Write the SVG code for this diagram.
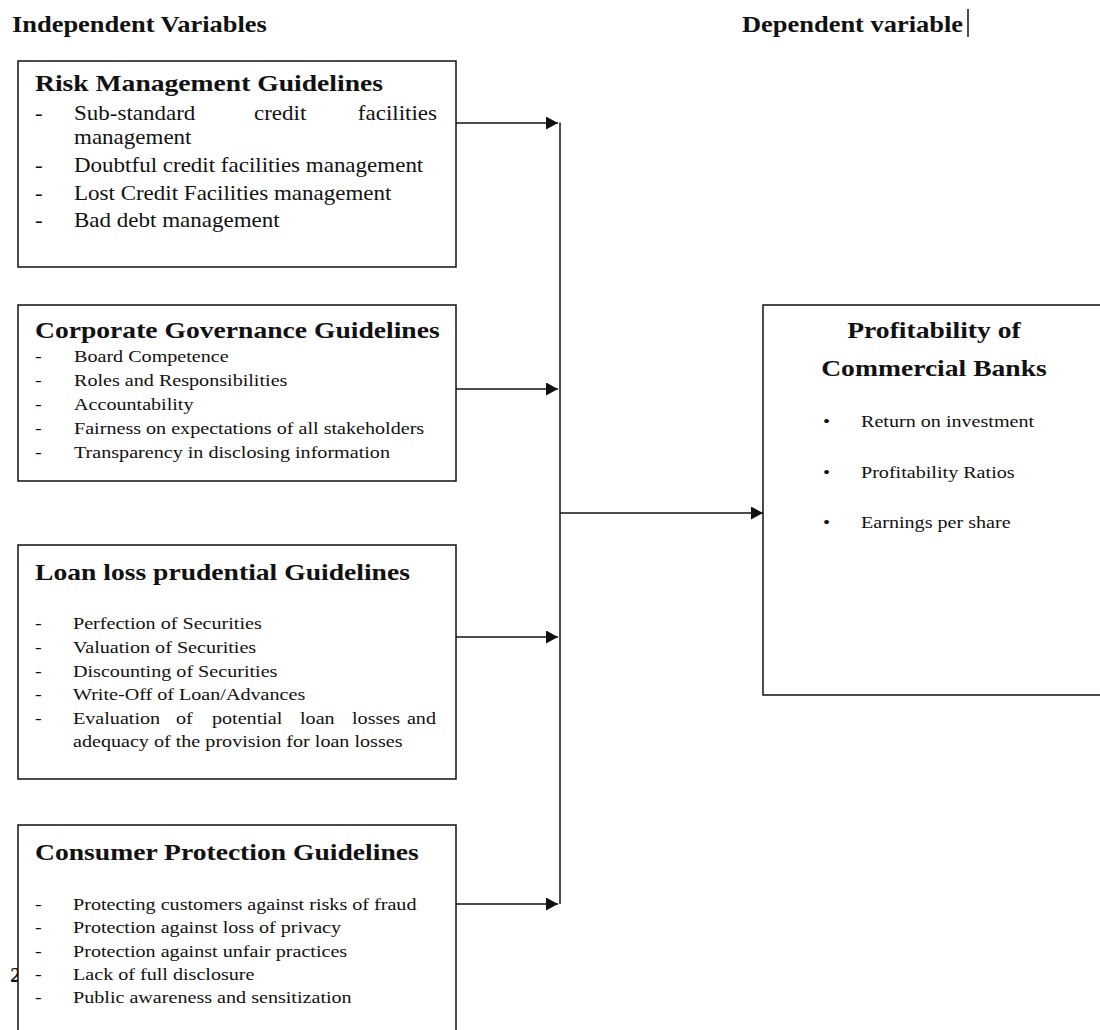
<svg xmlns="http://www.w3.org/2000/svg" width="1100" height="1030" viewBox="0 0 1100 1030">
<style>
.box{fill:#fff;stroke:#111;stroke-width:1.5}
.con{fill:none;stroke:#111;stroke-width:1.5}
text{font-family:"Liberation Serif","Times New Roman",serif;fill:#111}
.hd{font-size:23px;font-weight:bold}
.tt{font-size:24px;font-weight:bold}
.i1{font-size:20px}
.i2{font-size:17.5px}
</style>
<defs>
<marker id="ah" markerUnits="userSpaceOnUse" markerWidth="14" markerHeight="14" refX="12" refY="6.5" orient="auto">
<path d="M0,0 L12,6.5 L0,13 Z" fill="#111"/>
</marker>
</defs>
<rect width="1100" height="1030" fill="#fff"/>

<g id="headers" transform="scale(1.15 1)">
<text class="hd" x="10.43" y="32">Independent Variables</text>
<text class="hd" x="645.22" y="32">Dependent variable</text>
</g>
<line x1="968" y1="9" x2="968" y2="37" stroke="#111" stroke-width="1.5"/>

<g id="pagenum" transform="scale(1.15 1)">
<text class="i1" x="8.7" y="982" font-weight="bold">2</text>
</g>

<g id="connectors">
<line class="con" x1="560" y1="122.5" x2="560" y2="904"/>
<line class="con" x1="456" y1="123" x2="558" y2="123" marker-end="url(#ah)"/>
<line class="con" x1="456" y1="389" x2="558" y2="389" marker-end="url(#ah)"/>
<line class="con" x1="456" y1="637" x2="558" y2="637" marker-end="url(#ah)"/>
<line class="con" x1="456" y1="904" x2="558" y2="904" marker-end="url(#ah)"/>
<line class="con" x1="560" y1="513" x2="763" y2="513" marker-end="url(#ah)"/>
</g>

<g id="risk">
<rect class="box" x="18" y="61" width="438" height="206"/>
<g transform="scale(1.15 1)">
<text class="tt" x="30.43" y="91">Risk Management Guidelines</text>
<g class="i1">
<text x="30.43" y="120">-</text><text x="64.35" y="120">Sub-standard</text><text x="220.87" y="120">credit</text><text x="380" y="120" text-anchor="end">facilities</text>
<text x="64.35" y="144">management</text>
<text x="30.43" y="172">-</text><text x="64.35" y="172">Doubtful credit facilities management</text>
<text x="30.43" y="200">-</text><text x="64.35" y="200">Lost Credit Facilities management</text>
<text x="30.43" y="227">-</text><text x="64.35" y="227">Bad debt management</text>
</g>
</g>
</g>

<g id="governance">
<rect class="box" x="18" y="305" width="438" height="176"/>
<g transform="scale(1.15 1)">
<text class="tt" x="30.43" y="338">Corporate Governance Guidelines</text>
<g class="i2">
<text x="30.43" y="362">-</text><text x="64.35" y="362">Board Competence</text>
<text x="30.43" y="386">-</text><text x="64.35" y="386">Roles and Responsibilities</text>
<text x="30.43" y="410">-</text><text x="64.35" y="410">Accountability</text>
<text x="30.43" y="434">-</text><text x="64.35" y="434">Fairness on expectations of all stakeholders</text>
<text x="30.43" y="458">-</text><text x="64.35" y="458">Transparency  in disclosing information</text>
</g>
</g>
</g>

<g id="loanloss">
<rect class="box" x="18" y="545" width="438" height="234"/>
<g transform="scale(1.15 1)">
<text class="tt" x="30.43" y="580">Loan loss prudential Guidelines</text>
<g class="i2">
<text x="30.43" y="629">-</text><text x="63.48" y="629">Perfection of Securities</text>
<text x="30.43" y="653">-</text><text x="63.48" y="653">Valuation of Securities</text>
<text x="30.43" y="677">-</text><text x="63.48" y="677">Discounting of Securities</text>
<text x="30.43" y="700">-</text><text x="63.48" y="700">Write-Off of Loan/Advances</text>
<text x="30.43" y="724">-</text><text x="63.48" y="724">Evaluation</text><text x="153.04" y="724">of</text><text x="184.35" y="724">potential</text><text x="260.87" y="724">loan</text><text x="306.09" y="724">losses</text><text x="379.13" y="724" text-anchor="end">and</text>
<text x="63.48" y="747">adequacy of the provision for loan losses</text>
</g>
</g>
</g>

<g id="consumer">
<rect class="box" x="18" y="825" width="438" height="220"/>
<g transform="scale(1.15 1)">
<text class="tt" x="30.43" y="860">Consumer Protection Guidelines</text>
<g class="i2">
<text x="30.43" y="910">-</text><text x="63.48" y="910">Protecting customers against risks of fraud</text>
<text x="30.43" y="933">-</text><text x="63.48" y="933">Protection against loss of privacy</text>
<text x="30.43" y="957">-</text><text x="63.48" y="957">Protection against unfair practices</text>
<text x="30.43" y="980">-</text><text x="63.48" y="980">Lack of full disclosure</text>
<text x="30.43" y="1003">-</text><text x="63.48" y="1003">Public awareness and sensitization</text>
</g>
</g>
</g>

<g id="profitability">
<rect class="box" x="763" y="305" width="400" height="390"/>
<g transform="scale(1.15 1)">
<text class="tt" x="812.17" y="338" text-anchor="middle">Profitability of</text>
<text class="tt" x="812.17" y="376" text-anchor="middle">Commercial Banks</text>
<g class="i2">
<text x="715.65" y="427">•</text><text x="748.7" y="427">Return on investment</text>
<text x="715.65" y="478">•</text><text x="748.7" y="478">Profitability Ratios</text>
<text x="715.65" y="528">•</text><text x="748.7" y="528">Earnings per share</text>
</g>
</g>
</g>
</svg>
